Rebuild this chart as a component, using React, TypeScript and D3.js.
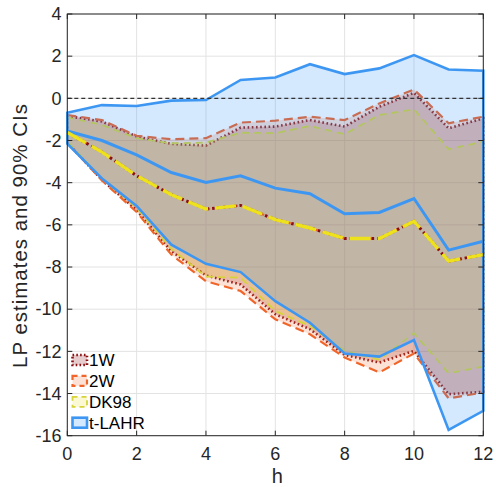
import React from "react";
import * as d3 from "d3";

const hValues = [0, 1, 2, 3, 4, 5, 6, 7, 8, 9, 10, 11, 12];
const xTicks = [0, 2, 4, 6, 8, 10, 12];
const yTicks = [4, 2, 0, -2, -4, -6, -8, -10, -12, -14, -16];

const estimate = [-1.62, -2.55, -3.67, -4.57, -5.25, -5.08, -5.75, -6.15, -6.65, -6.65, -5.83, -7.72, -7.41];
const tlahrEstimate = [-1.55, -2.0, -2.68, -3.52, -3.99, -3.67, -4.26, -4.52, -5.47, -5.41, -4.75, -7.2, -6.78];

const upper1W = [-0.84, -1.1, -1.81, -2.16, -2.24, -1.39, -1.34, -1.03, -1.34, -0.4, 0.26, -1.42, -0.95];
const lower1W = [-2.1, -3.87, -5.3, -7.25, -8.4, -8.83, -10.24, -10.95, -12.17, -12.53, -11.98, -14.03, -13.92];
const upper2W = [-0.79, -1.03, -1.78, -1.94, -1.89, -1.15, -1.06, -0.87, -1.03, -0.24, 0.42, -1.18, -0.87];
const lower2W = [-2.1, -3.9, -5.39, -7.41, -8.67, -9.14, -10.48, -11.19, -12.29, -13.0, -12.1, -14.23, -13.95];
const upperDK98 = [-0.9, -1.26, -1.89, -2.13, -2.1, -1.63, -1.65, -1.31, -1.7, -0.79, -0.52, -2.41, -2.05];
const lowerDK98 = [-2.05, -3.8, -5.2, -7.14, -8.46, -8.51, -10.09, -10.8, -11.98, -12.4, -11.14, -13.04, -12.72];
const upperTLAHR = [-0.68, -0.32, -0.36, -0.11, -0.08, 0.87, 0.99, 1.62, 1.15, 1.42, 2.05, 1.37, 1.31];
const lowerTLAHR = [-2.15, -3.8, -5.1, -6.94, -7.85, -8.24, -9.62, -10.64, -12.1, -12.25, -11.46, -15.73, -14.82];

const seriesNames = ["1W", "2W", "DK98", "t-LAHR"];

const W = 496;
const H = 487;
const left = 67.3;
const right = 483.3;
const top = 14;
const bottom = 435.7;

const FONT = "'Liberation Sans', Arial, Helvetica, sans-serif";

type Style = { stroke: string; width: number; dash: string; fill: string };
const styles: Style[] = [
  { stroke: "#8a0f12", width: 2.6, dash: "1.6 2.6", fill: "rgba(128,0,0,0.2)" },
  { stroke: "#f0652a", width: 2.2, dash: "9 5", fill: "rgba(240,110,50,0.2)" },
  { stroke: "#d6d43a", width: 1.8, dash: "7 5", fill: "rgba(235,220,40,0.2)" },
  { stroke: "#3d97f2", width: 2.6, dash: "", fill: "rgba(40,140,250,0.2)" },
];

export default function App() {
  const x = d3.scaleLinear().domain([0, 12]).range([left, right]);
  const y = d3.scaleLinear().domain([-16, 4]).range([bottom, top]);

  const bands = [
    [upper1W, lower1W],
    [upper2W, lower2W],
    [upperDK98, lowerDK98],
    [upperTLAHR, lowerTLAHR],
  ];

  const bandPath = (up: number[], lo: number[]) => {
    const pts: [number, number][] = [];
    hValues.forEach((h, i) => pts.push([x(h), y(up[i])]));
    for (let i = hValues.length - 1; i >= 0; i--) pts.push([x(hValues[i]), y(lo[i])]);
    return d3.line()(pts) + "Z";
  };

  const line = d3
    .line<number>()
    .x((_, i) => x(hValues[i]))
    .y((d) => y(d));

  const gridColor = "#e3e3e3";
  const axisColor = "#262626";
  const tickLen = 5;

  return (
    <svg width={W} height={H} style={{ position: "absolute", left: 0, top: 0 }}>
      <rect x={0} y={0} width={W} height={H} fill="#fff" />
      <rect x={left} y={top} width={right - left} height={bottom - top} fill="#fff" />
      {xTicks.map((t) => (
        <line key={"gx" + t} x1={x(t)} x2={x(t)} y1={top} y2={bottom} stroke={gridColor} strokeWidth={1} />
      ))}
      {yTicks.map((t) => (
        <line key={"gy" + t} x1={left} x2={right} y1={y(t)} y2={y(t)} stroke={gridColor} strokeWidth={1} />
      ))}
      {bands.map(([up, lo], i) => (
        <path
          key={"band" + i}
          d={bandPath(up, lo)}
          fill={styles[i].fill}
          stroke={styles[i].stroke}
          strokeWidth={styles[i].width}
          strokeDasharray={styles[i].dash || undefined}
          strokeLinejoin="miter"
        />
      ))}
      <line x1={left} x2={right} y1={y(0)} y2={y(0)} stroke="#333" strokeWidth={1.2} strokeDasharray="4 3" />
      <path d={line(tlahrEstimate) || ""} fill="none" stroke={styles[3].stroke} strokeWidth={3} />
      <path d={line(estimate) || ""} fill="none" stroke={styles[1].stroke} strokeWidth={2.2} strokeDasharray="9 5" />
      <path d={line(estimate) || ""} fill="none" stroke="#8a0f12" strokeWidth={3} strokeDasharray="2.5 3" />
      <path d={line(estimate) || ""} fill="none" stroke="#ede21c" strokeWidth={3.4} strokeDasharray="21 7" />
      <rect x={left} y={top} width={right - left} height={bottom - top} fill="none" stroke={axisColor} strokeWidth={1} />
      {xTicks.map((t) => (
        <g key={"tx" + t}>
          <line x1={x(t)} x2={x(t)} y1={bottom} y2={bottom - tickLen} stroke={axisColor} />
          <line x1={x(t)} x2={x(t)} y1={top} y2={top + tickLen} stroke={axisColor} />
          <text x={x(t)} y={459.5} textAnchor="middle" fontFamily={FONT} fontSize={18} fill="#262626">
            {t}
          </text>
        </g>
      ))}
      {yTicks.map((t) => (
        <g key={"ty" + t}>
          <line x1={left} x2={left + tickLen} y1={y(t)} y2={y(t)} stroke={axisColor} />
          <line x1={right} x2={right - tickLen} y1={y(t)} y2={y(t)} stroke={axisColor} />
          <text x={61.5} y={y(t) + 6.3} textAnchor="end" fontFamily={FONT} fontSize={18} fill="#262626">
            {t}
          </text>
        </g>
      ))}
      <text x={(left + right) / 2 + 2} y={483} textAnchor="middle" fontFamily={FONT} fontSize={20} fill="#262626">
        h
      </text>
      <text
        transform={`translate(26.5,236) rotate(-90)`}
        textAnchor="middle"
        fontFamily={FONT}
        fontSize={20.5}
        fill="#262626"
        textLength={264}
        lengthAdjust="spacing"
      >
        LP estimates and 90% CIs
      </text>
      {seriesNames.map((name, i) => {
        const cy = 360 + i * 20.9;
        const s = styles[i];
        return (
          <g key={"lg" + name}>
            <rect
              x={72.5}
              y={cy - 5}
              width={14.5}
              height={10}
              fill={s.fill}
              stroke={s.stroke}
              strokeWidth={s.width}
              strokeDasharray={s.dash ? (i === 0 ? "1.6 2.2" : "5 4") : undefined}
            />
            <text x={89} y={cy + 6} fontFamily={FONT} fontSize={17} fill="#000">
              {name}
            </text>
          </g>
        );
      })}
    </svg>
  );
}
